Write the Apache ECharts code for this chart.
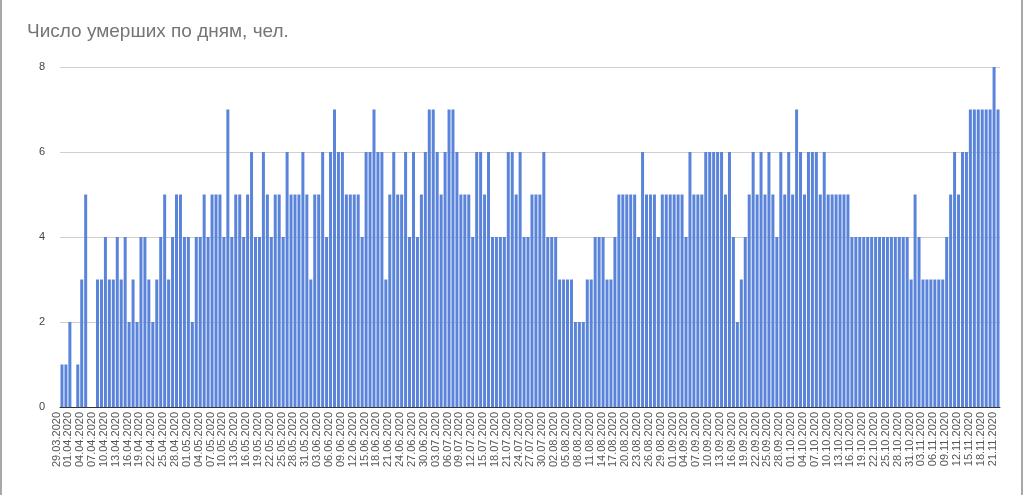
<!DOCTYPE html>
<html>
<head>
<meta charset="utf-8">
<script src="https://cdn.jsdelivr.net/npm/echarts@6/dist/echarts.min.js"></script>
<style>
html, body { margin: 0; padding: 0; background: #fff; }
#chart { width: 1024px; height: 495px; }
</style>
</head>
<body>
<div id="chart"></div>
<script>
// daily deaths, one array per month (29.03.2020 - 21.11.2020)
const deathsMar = [1, 1, 2];
const deathsApr = [0, 1, 3, 5, 0, 0, 3, 3, 4, 3, 3, 4, 3, 4, 2, 3, 2, 4, 4, 3, 2, 3, 4, 5, 3, 4, 5, 5, 4, 4];
const deathsMay = [2, 4, 4, 5, 4, 5, 5, 5, 4, 7, 4, 5, 5, 4, 5, 6, 4, 4, 6, 5, 4, 5, 5, 4, 6, 5, 5, 5, 6, 5, 3];
const deathsJun = [5, 5, 6, 4, 6, 7, 6, 6, 5, 5, 5, 5, 4, 6, 6, 7, 6, 6, 3, 5, 6, 5, 5, 6, 4, 6, 4, 5, 6, 7];
const deathsJul = [7, 6, 5, 6, 7, 7, 6, 5, 5, 5, 4, 6, 6, 5, 6, 4, 4, 4, 4, 6, 6, 5, 6, 4, 4, 5, 5, 5, 6, 4, 4];
const deathsAug = [4, 3, 3, 3, 3, 2, 2, 2, 3, 3, 4, 4, 4, 3, 3, 4, 5, 5, 5, 5, 5, 4, 6, 5, 5, 5, 4, 5, 5, 5, 5];
const deathsSep = [5, 5, 4, 6, 5, 5, 5, 6, 6, 6, 6, 6, 5, 6, 4, 2, 3, 4, 5, 6, 5, 6, 5, 6, 5, 4, 6, 5, 6, 5];
const deathsOct = [7, 6, 5, 6, 6, 6, 5, 6, 5, 5, 5, 5, 5, 5, 4, 4, 4, 4, 4, 4, 4, 4, 4, 4, 4, 4, 4, 4, 4, 3, 5];
const deathsNov = [4, 3, 3, 3, 3, 3, 3, 4, 5, 6, 5, 6, 6, 7, 7, 7, 7, 7, 7, 8, 7];

const startDate = [2020, 2, 29]; // 29.03.2020
const yTicks = [0, 2, 4, 6, 8];

const values = [].concat(deathsMar, deathsApr, deathsMay, deathsJun, deathsJul,
	deathsAug, deathsSep, deathsOct, deathsNov);

// category labels dd.mm.yyyy
const pad = (n) => (n < 10 ? "0" + n : "" + n);
const days = values.map((v, i) => {
	const d = new Date(startDate[0], startDate[1], startDate[2] + i);
	return pad(d.getDate()) + "." + pad(d.getMonth() + 1) + "." + d.getFullYear();
});

const chart = echarts.init(document.getElementById("chart"));
const font = "Arial, 'Liberation Sans', sans-serif";

let option = {
	animation: false,
	title: {
		text: "Число умерших по дням, чел.",
		left: 22,
		top: 17,
		textStyle: { fontFamily: font, fontSize: 19, fontWeight: "normal", color: "#757575" },
	},
	grid: { left: 60, right: 24, top: 67, bottom: 88 },
	xAxis: {
		type: "category",
		data: days,
		axisTick: { show: false },
		axisLine: { lineStyle: { color: "#333", width: 1 } },
		axisLabel: {
			interval: 2,
			rotate: 90,
			margin: 5,
			verticalAlign: "bottom", // labels sit a bit left of their bars in the original
			showMinLabel: true,
			showMaxLabel: true,
			fontFamily: font,
			fontSize: 11,
			color: "#555",
		},
	},
	yAxis: {
		type: "value",
		min: yTicks[0],
		max: yTicks[yTicks.length - 1],
		interval: 2,
		axisLine: { show: false },
		axisTick: { show: false },
		splitLine: { lineStyle: { color: "#d0d0d0" } },
		axisLabel: { margin: 15, fontFamily: font, fontSize: 11, color: "#444" },
	},
	graphic: [
		{ type: "line", shape: { x1: 1, y1: 0, x2: 1, y2: 495 }, style: { stroke: "#a8a8a8", lineWidth: 2 } },
		{ type: "line", shape: { x1: 1022, y1: 0, x2: 1022, y2: 495 }, style: { stroke: "#a8a8a8", lineWidth: 2 } },
	],
	series: [
		{
			type: "bar",
			data: values,
			barWidth: 3,
			itemStyle: { color: "#5a84da" },
		},
	],
};
chart.setOption(option);
</script>
</body>
</html>
